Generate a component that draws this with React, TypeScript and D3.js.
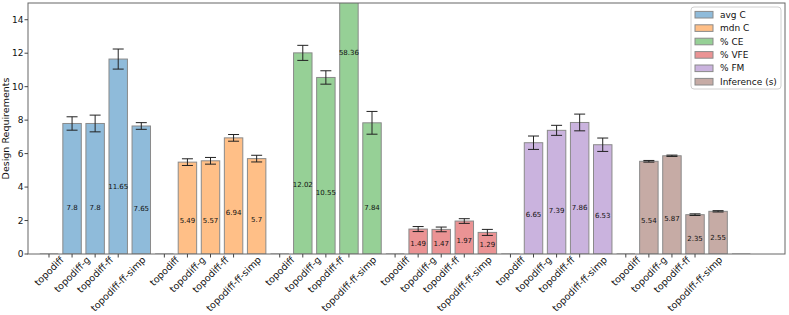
import React, { useRef, useEffect } from "react";
import * as d3 from "d3";

// methods shown as tick labels, metrics shown in legend
const methods = ["topodiff", "topodiff-g", "topodiff-ff", "topodiff-ff-simp"];
const metrics = ["avg C", "mdn C", "% CE", "% VFE", "% FM", "Inference (s)"];
const colors = ["#1f77b4", "#ff7f0e", "#2ca02c", "#d62728", "#9467bd", "#8c564b"];

const avgC = [7.8, 7.8, 11.65, 7.65];
const avgCErr = [0.4, 0.5, 0.6, 0.2];
const mdnC = [5.49, 5.57, 6.94, 5.7];
const mdnCErr = [0.2, 0.2, 0.2, 0.2];
const pctCE = [12.02, 10.55, 58.36, 7.84];
const pctCEErr = [0.45, 0.4, 1.2, 0.68];
const pctVFE = [1.49, 1.47, 1.97, 1.29];
const pctVFEErr = [0.15, 0.14, 0.14, 0.18];
const pctFM = [6.65, 7.39, 7.86, 6.53];
const pctFMErr = [0.4, 0.3, 0.5, 0.4];
const inference = [5.54, 5.87, 2.35, 2.55];
const inferenceErr = [0.05, 0.04, 0.05, 0.04];

const values = [avgC, mdnC, pctCE, pctVFE, pctFM, inference];
const errors = [avgCErr, mdnCErr, pctCEErr, pctVFEErr, pctFMErr, inferenceErr];

const yTicks = [0, 2, 4, 6, 8, 10, 12, 14];
const yMax = 15;
// label of the clipped bar sits lower than value/3
const clippedLabelAt = 11.9;

const W = 789;
const H = 315;

const App = () => {
  const ref = useRef(null);

  useEffect(() => {
    if (!ref.current) return;
    const svg = d3.select(ref.current);
    svg.selectAll("*").remove();

    const left = 28, right = 785, top = 3, bottom = 254;
    const slotsPerGroup = methods.length + 1;
    const nSlots = metrics.length * slotsPerGroup;

    const x = d3.scaleLinear().domain([-0.91, nSlots + 1.9]).range([left, right]);
    const y = d3.scaleLinear().domain([0, yMax]).range([bottom, top]);
    const bw = x(0.8) - x(0);
    const font = "DejaVu Sans, sans-serif";

    svg
      .append("defs")
      .append("clipPath")
      .attr("id", "plot-clip")
      .append("rect")
      .attr("x", left)
      .attr("y", top)
      .attr("width", right - left)
      .attr("height", bottom - top);

    const plot = svg.append("g").attr("clip-path", "url(#plot-clip)");

    // flatten bars
    const bars = [];
    metrics.forEach((m, g) => {
      values[g].forEach((v, j) => {
        bars.push({
          slot: g * slotsPerGroup + 1 + j,
          v,
          err: errors[g][j],
          color: d3.color(colors[g]),
        });
      });
    });

    // zero-height placeholder bars
    const empties = d3.range(metrics.length + 1).map((g) => g * slotsPerGroup);
    plot
      .selectAll(".empty")
      .data(empties)
      .join("line")
      .attr("x1", (d) => x(d) - bw / 2)
      .attr("x2", (d) => x(d) + bw / 2)
      .attr("y1", y(0))
      .attr("y2", y(0))
      .attr("stroke", "#808080")
      .attr("stroke-width", 1);

    // tab colours at alpha 0.5 on white
    const mix = (c) => {
      const w = d3.rgb(255, 255, 255);
      return d3.rgb((c.r + w.r) / 2, (c.g + w.g) / 2, (c.b + w.b) / 2).formatHex();
    };

    plot
      .selectAll(".bar")
      .data(bars)
      .join("rect")
      .attr("x", (d) => x(d.slot) - bw / 2)
      .attr("y", (d) => y(Math.min(d.v, yMax + 1)))
      .attr("width", bw)
      .attr("height", (d) => y(0) - y(Math.min(d.v, yMax + 1)))
      .attr("fill", (d) => mix(d.color))
      .attr("stroke", "#8a8a8a")
      .attr("stroke-width", 1);

    // error bars
    const eb = plot.selectAll(".err").data(bars).join("g").attr("stroke", "#222").attr("stroke-width", 1);
    eb.append("line")
      .attr("x1", (d) => x(d.slot))
      .attr("x2", (d) => x(d.slot))
      .attr("y1", (d) => y(d.v - d.err))
      .attr("y2", (d) => y(d.v + d.err));
    eb.append("line")
      .attr("x1", (d) => x(d.slot) - 5.5)
      .attr("x2", (d) => x(d.slot) + 5.5)
      .attr("y1", (d) => y(d.v - d.err))
      .attr("y2", (d) => y(d.v - d.err));
    eb.append("line")
      .attr("x1", (d) => x(d.slot) - 5.5)
      .attr("x2", (d) => x(d.slot) + 5.5)
      .attr("y1", (d) => y(d.v + d.err))
      .attr("y2", (d) => y(d.v + d.err));

    // value labels
    plot
      .selectAll(".lbl")
      .data(bars)
      .join("text")
      .attr("x", (d) => x(d.slot))
      .attr("y", (d) => y(d.v > yMax ? clippedLabelAt : d.v / 3))
      .attr("text-anchor", "middle")
      .attr("font-family", font)
      .attr("font-size", 7)
      .attr("fill", "#111")
      .text((d) => d.v);

    // frame
    svg
      .append("rect")
      .attr("x", left)
      .attr("y", top)
      .attr("width", right - left)
      .attr("height", bottom - top)
      .attr("fill", "none")
      .attr("stroke", "#666")
      .attr("stroke-width", 1);

    // y axis
    const yg = svg.append("g");
    yTicks.forEach((t) => {
      yg.append("line")
        .attr("x1", left - 3.5)
        .attr("x2", left)
        .attr("y1", y(t))
        .attr("y2", y(t))
        .attr("stroke", "#444");
      yg.append("text")
        .attr("x", left - 4.5)
        .attr("y", y(t))
        .attr("dy", "0.35em")
        .attr("text-anchor", "end")
        .attr("font-family", font)
        .attr("font-size", 9)
        .attr("fill", "#111")
        .text(t);
    });

    svg
      .append("text")
      .attr("transform", `translate(6,${(top + bottom) / 2}) rotate(-90)`)
      .attr("text-anchor", "middle")
      .attr("dy", "0.35em")
      .attr("font-family", font)
      .attr("font-size", 9.5)
      .attr("fill", "#111")
      .text("Design Requirements");

    // x ticks (labels sit one slot left of the bars)
    const xticks = [];
    metrics.forEach((m, g) => {
      methods.forEach((name, j) => xticks.push({ slot: g * slotsPerGroup + j, name }));
    });
    const xg = svg.append("g");
    const fs = 9.5;
    xticks.forEach((t) => {
      xg.append("line")
        .attr("x1", x(t.slot))
        .attr("x2", x(t.slot))
        .attr("y1", bottom)
        .attr("y2", bottom + 3.5)
        .attr("stroke", "#444");
      const txt = xg
        .append("text")
        .attr("text-anchor", "middle")
        .attr("dy", "0.35em")
        .attr("font-family", font)
        .attr("font-size", fs)
        .attr("fill", "#111")
        .text(t.name);
      const len = txt.node().getComputedTextLength();
      const half = (len + fs * 0.5) / Math.SQRT2 / 2;
      txt.attr("transform", `translate(${x(t.slot)},${bottom + 2.5 + half}) rotate(-45)`);
    });

    // legend
    const lg = svg.append("g").attr("transform", "translate(691,7)");
    lg.append("rect")
      .attr("width", 90)
      .attr("height", 82)
      .attr("rx", 3)
      .attr("fill", "white")
      .attr("fill-opacity", 0.8)
      .attr("stroke", "#d0d0d0");
    metrics.forEach((m, i) => {
      const row = lg.append("g").attr("transform", `translate(0,${7.7 + i * 13.4})`);
      row.append("rect")
        .attr("x", 4)
        .attr("y", -3.3)
        .attr("width", 18)
        .attr("height", 6.6)
        .attr("fill", mix(d3.color(colors[i])))
        .attr("stroke", "#8a8a8a");
      row.append("text")
        .attr("x", 29)
        .attr("dy", "0.35em")
        .attr("font-family", font)
        .attr("font-size", 9)
        .attr("fill", "#111")
        .text(m);
    });
  }, []);

  return (
    <svg
      ref={ref}
      width={W}
      height={H}
      style={{ position: "absolute", left: 0, top: 0, background: "white" }}
    />
  );
};

export default App;
